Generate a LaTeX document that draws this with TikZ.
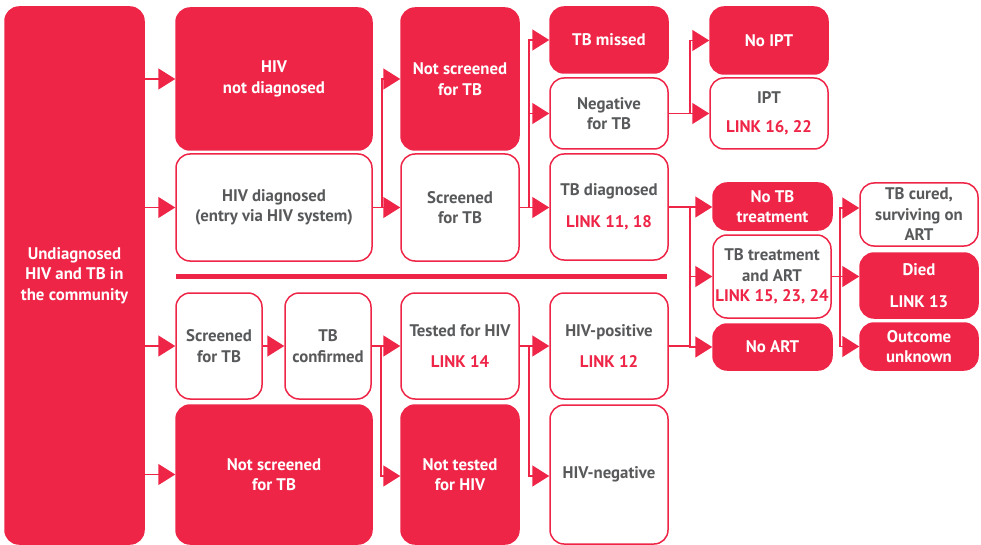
\documentclass[tikz,border=0pt]{standalone}
\usepackage{fontspec}
\setmainfont{PT Sans}
\usetikzlibrary{arrows.meta,calc}
\definecolor{wred}{HTML}{EE2547}
\definecolor{wgrey}{HTML}{58595B}
\newcommand\linktext[1]{\textcolor{wred}{#1}}
\tikzset{
 every node/.style={font=\bfseries\fontsize{16.8}{20.5}\selectfont, align=center, inner sep=0pt},
 fillbox/.style={fill=wred, draw=wred, rounded corners=14pt, text=white, line width=1.5pt},
 openbox/.style={fill=white, draw=wred, rounded corners=14pt, text=wgrey, line width=1.5pt},
 conn/.style={draw=wred, line width=1.5pt, -{Triangle[width=21pt,length=17pt]}},
 plainline/.style={draw=wred, line width=1.5pt},
}
\begin{document}
\begin{tikzpicture}[x=1pt,y=-1pt]
\useasboundingbox (0,0) rectangle (981,545);
% boxes
\node[fillbox, minimum width=139pt, minimum height=537pt] (U) at (74.5,275.5) {Undiagnosed\\HIV and TB in\\the community};
\node[fillbox, minimum width=196pt, minimum height=142pt] (HND) at (274,79) {HIV\\not diagnosed};
\node[openbox, minimum width=196pt, minimum height=107pt] (HD) at (274,207.5) {HIV diagnosed\\(entry via HIV system)};
\node[fillbox, minimum width=118pt, minimum height=142pt] (NS1) at (460,79) {Not screened\\for TB};
\node[openbox, minimum width=118pt, minimum height=107pt] (S1) at (460,207.5) {Screened\\for TB};
\node[fillbox, minimum width=118pt, minimum height=66pt] (TBM) at (609,40) {TB missed};
\node[openbox, minimum width=118pt, minimum height=71pt] (NEG) at (609,113.5) {Negative\\for TB};
\node[openbox, minimum width=118pt, minimum height=106pt] (TBD) at (609,207) {TB diagnosed\\[11pt]\linktext{LINK 11, 18}};
\node[fillbox, minimum width=118pt, minimum height=67pt] (NOIPT) at (769,40.5) {No IPT};
\node[openbox, minimum width=118pt, minimum height=71pt] (IPT) at (769,113.5) {IPT\\[9pt]\linktext{LINK 16, 22}};
\node[fillbox, minimum width=119pt, minimum height=47pt] (NOTBT) at (772.5,206.5) {No TB\\treatment};
\node[openbox, minimum width=118pt, minimum height=83pt] (TBTA) at (772,276.5) {TB treatment\\and ART\\\linktext{LINK 15, 23, 24}};
\node[fillbox, minimum width=119pt, minimum height=46pt] (NOART) at (772.5,347) {No ART};
\node[openbox, minimum width=118pt, minimum height=63pt] (CURED) at (919,214.5) {TB cured,\\surviving on\\ART};
\node[fillbox, minimum width=118pt, minimum height=65pt] (DIED) at (919,285.5) {Died\\[11pt]LINK 13};
\node[fillbox, minimum width=118pt, minimum height=47pt] (OUT) at (919,346.5) {Outcome\\unknown};
\node[openbox, minimum width=86pt, minimum height=106pt] (S2) at (219,346) {Screened\\for TB};
\node[openbox, minimum width=86pt, minimum height=106pt] (TBC) at (328,346) {TB\\confirmed};
\node[fillbox, minimum width=196pt, minimum height=139pt] (NS2) at (274,474.5) {Not screened\\for TB};
\node[openbox, minimum width=118pt, minimum height=106pt] (TH) at (460,346) {Tested for HIV\\[10pt]\linktext{LINK 14}};
\node[fillbox, minimum width=118pt, minimum height=139pt] (NTH) at (460,474.5) {Not tested\\for HIV};
\node[openbox, minimum width=118pt, minimum height=106pt] (HP) at (609,346) {HIV-positive\\[10pt]\linktext{LINK 12}};
\node[openbox, minimum width=118pt, minimum height=139pt] (HN) at (609,474.5) {HIV-negative};
% separator
\coordinate (sepL) at (176,276);
\coordinate (sepR) at (667,276);
\draw[wred, line width=5pt] (sepL) -- (sepR);
% junctions
\coordinate (j1) at (382,207.5);
\coordinate (j2) at (529,207.5);
\coordinate (j3) at (690,113.5);
\coordinate (j4) at (690,207);
\coordinate (j5) at (840,276.5);
\coordinate (j6) at (381,346);
\coordinate (j7) at (529,346);
% connectors from community
\draw[conn] (U.east |- HND.west) -- (HND.west);
\draw[conn] (U.east |- HD.west) -- (HD.west);
\draw[conn] (U.east |- S2.west) -- (S2.west);
\draw[conn] (U.east |- NS2.west) -- (NS2.west);
% HIV diagnosed
\draw[plainline] (HD.east) -- (j1);
\draw[conn] (j1) |- (NS1.west);
\draw[conn] (j1) -- (S1.west);
% screened
\draw[plainline] (S1.east) -- (j2);
\draw[conn] (j2) |- (TBM.west);
\draw[conn] (j2) |- (NEG.west);
\draw[conn] (j2) -- (TBD.west |- j2);
% negative
\draw[plainline] (NEG.east) -- (j3);
\draw[conn] (j3) |- (NOIPT.west);
\draw[conn] (j3) -- (IPT.west);
% TB diagnosed / HIV-positive
\draw[plainline] (TBD.east) -- (j4);
\draw[plainline] (HP.east) -- (j4 |- HP.east);
\draw[conn] (j4) -- (NOTBT.west |- j4);
\draw[conn] (j4) |- (TBTA.west);
\draw[conn] (j4) |- (NOART.west);
% TB treatment and ART
\draw[plainline] (TBTA.east) -- (j5);
\draw[conn] (j5) |- ([yshift=6.5pt]CURED.west);
\draw[conn] (j5) -- (DIED.west |- j5);
\draw[conn] (j5) |- (OUT.west);
% bottom chain
\draw[conn] (S2.east) -- (TBC.west);
\draw[plainline] (TBC.east) -- (j6);
\draw[conn] (j6) -- (TH.west);
\draw[conn] (j6) |- ([yshift=-1.5pt]NTH.west);
\draw[plainline] (TH.east) -- (j7);
\draw[conn] (j7) -- (HP.west);
\draw[conn] (j7) |- ([yshift=-1.5pt]HN.west);
\end{tikzpicture}
\end{document}
